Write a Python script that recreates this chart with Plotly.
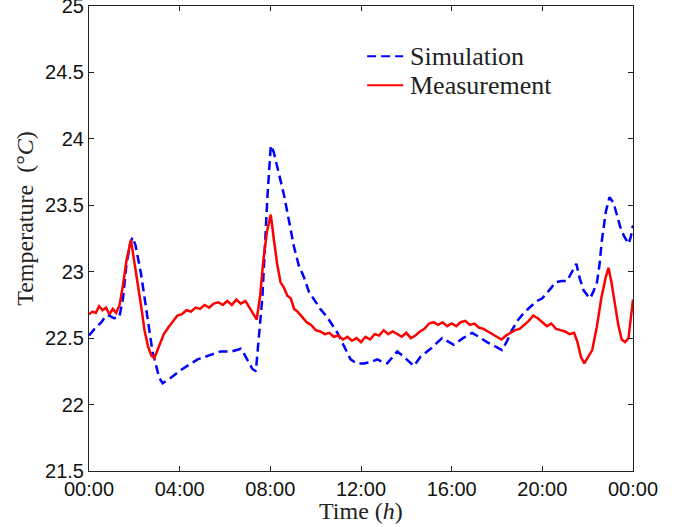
import plotly.graph_objects as go

# ---- data (hours since midnight) ----
sim_t = [0, 0.3, 0.55, 0.75, 0.9, 1.1, 1.34, 1.5, 1.65, 1.8, 1.92, 2.05, 2.29, 2.45, 2.6, 2.8, 2.95,
         3.1, 3.25, 3.6, 4.05, 4.4, 4.79, 5.3, 5.81, 6.3, 6.7, 6.85, 7.0, 7.2, 7.36, 7.5, 7.65, 7.87,
         8.02, 8.15, 8.35, 8.6, 8.85, 9.04, 9.25, 9.48, 9.7, 9.93, 10.2, 10.5, 10.75, 10.96, 11.25,
         11.54, 11.8, 12.13, 12.45, 12.72, 12.95, 13.16, 13.4, 13.6, 13.89, 14.1, 14.33, 14.63, 15.07,
         15.58, 15.85, 16.09, 16.5, 16.9, 17.2, 17.56, 17.9, 18.22, 18.45, 18.66, 18.9, 19.18, 19.5,
         19.77, 20.0, 20.21, 20.4, 20.57, 20.85, 21.09, 21.3, 21.5, 21.65, 21.82, 22.0, 22.11, 22.25,
         22.41, 22.52, 22.63, 22.8, 22.96, 23.14, 23.3, 23.43, 23.6, 23.8, 23.9, 24.0]
sim_v = [22.52, 22.58, 22.62, 22.67, 22.67, 22.65, 22.66, 22.80, 23.05, 23.20, 23.26, 23.20, 22.99,
         22.80, 22.60, 22.40, 22.30, 22.20, 22.16, 22.20, 22.26, 22.30, 22.34, 22.37, 22.40, 22.40,
         22.42, 22.38, 22.33, 22.27, 22.25, 22.50, 22.81, 23.56, 23.95, 23.90, 23.75, 23.58, 23.36,
         23.19, 23.05, 22.96, 22.85, 22.79, 22.72, 22.66, 22.60, 22.54, 22.44, 22.34, 22.31, 22.31,
         22.32, 22.34, 22.32, 22.31, 22.36, 22.40, 22.36, 22.33, 22.29, 22.36, 22.42, 22.50, 22.47,
         22.45, 22.50, 22.54, 22.51, 22.47, 22.44, 22.41, 22.48, 22.56, 22.63, 22.69, 22.74, 22.78,
         22.80, 22.84, 22.88, 22.92, 22.93, 22.93, 23.00, 23.06, 22.95, 22.86, 22.82, 22.80, 22.85,
         22.92, 23.05, 23.24, 23.45, 23.56, 23.52, 23.42, 23.34, 23.27, 23.21, 23.26, 23.35]

meas_t = [0, 0.15, 0.3, 0.45, 0.6, 0.75, 0.9, 1.05, 1.2, 1.35, 1.5, 1.65, 1.85, 2.0, 2.15, 2.3, 2.45,
          2.6, 2.75, 2.88, 3.0, 3.15, 3.3, 3.5, 3.7, 3.9, 4.1, 4.3, 4.5, 4.7, 4.9, 5.1, 5.3, 5.5, 5.7,
          5.9, 6.1, 6.3, 6.5, 6.7, 6.9, 7.1, 7.3, 7.4, 7.55, 7.7, 7.85, 8.02, 8.15, 8.3, 8.45, 8.6,
          8.75, 8.9, 9.05, 9.2, 9.4, 9.6, 9.8, 10.0, 10.2, 10.4, 10.6, 10.8, 11.0, 11.2, 11.4, 11.6,
          11.8, 12.0, 12.2, 12.4, 12.6, 12.8, 13.0, 13.2, 13.4, 13.6, 13.8, 14.0, 14.2, 14.4, 14.6,
          14.8, 15.0, 15.2, 15.4, 15.6, 15.8, 16.0, 16.2, 16.4, 16.6, 16.8, 17.0, 17.2, 17.4, 17.6,
          17.8, 18.0, 18.2, 18.4, 18.6, 18.8, 19.0, 19.2, 19.4, 19.6, 19.8, 20.0, 20.2, 20.4, 20.6,
          20.8, 21.0, 21.2, 21.4, 21.55, 21.7, 21.85, 22.0, 22.2, 22.4, 22.6, 22.8, 22.92, 23.05,
          23.2, 23.35, 23.5, 23.65, 23.8, 23.9, 24.0]
meas_v = [22.68, 22.70, 22.69, 22.74, 22.71, 22.73, 22.68, 22.72, 22.69, 22.75, 22.90, 23.08, 23.24,
          23.08, 22.90, 22.74, 22.56, 22.44, 22.37, 22.35, 22.40, 22.47, 22.53, 22.58, 22.63, 22.67,
          22.68, 22.71, 22.70, 22.73, 22.72, 22.75, 22.73, 22.76, 22.77, 22.75, 22.78, 22.75, 22.79,
          22.76, 22.78, 22.72, 22.66, 22.64, 22.82, 23.10, 23.30, 23.43, 23.25, 23.06, 22.92, 22.88,
          22.82, 22.80, 22.72, 22.70, 22.66, 22.62, 22.60, 22.56, 22.55, 22.53, 22.54, 22.51, 22.52,
          22.49, 22.51, 22.48, 22.50, 22.47, 22.51, 22.49, 22.53, 22.52, 22.56, 22.53, 22.55, 22.53,
          22.51, 22.54, 22.50, 22.52, 22.55, 22.57, 22.61, 22.62, 22.60, 22.62, 22.59, 22.61, 22.59,
          22.62, 22.63, 22.60, 22.61, 22.58, 22.57, 22.55, 22.53, 22.51, 22.49, 22.52, 22.54, 22.56,
          22.57, 22.60, 22.63, 22.67, 22.65, 22.62, 22.59, 22.61, 22.57, 22.56, 22.55, 22.53, 22.54,
          22.47, 22.36, 22.31, 22.35, 22.41, 22.58, 22.80, 22.96, 23.03, 22.92, 22.76, 22.60, 22.49,
          22.47, 22.50, 22.65, 22.79]

series_names = ["Simulation", "Measurement"]
series_colors = ["#0000ff", "#ff0000"]

x_tickvals = [0, 4, 8, 12, 16, 20, 24]
x_ticktext = ["00:00", "04:00", "08:00", "12:00", "16:00", "20:00", "00:00"]
y_tickvals = [21.5, 22, 22.5, 23, 23.5, 24, 24.5, 25]
y_ticktext = ["21.5", "22", "22.5", "23", "23.5", "24", "24.5", "25"]

SANS = "Liberation Sans, Arial, sans-serif"
SERIF = "Liberation Serif, Times New Roman, serif"
BLUE_DASH = "9px,5px"

fig = go.Figure()
fig.add_trace(go.Scatter(x=sim_t, y=sim_v, mode="lines", name=series_names[0], showlegend=False,
                         line=dict(color=series_colors[0], width=2.5, dash=BLUE_DASH)))
fig.add_trace(go.Scatter(x=meas_t, y=meas_v, mode="lines", name=series_names[1], showlegend=False,
                         line=dict(color=series_colors[1], width=2.5)))

L, R, T, B = 89, 632.7, 5.7, 470.7
W, H = 690, 527
pw, ph = R - L, B - T

def px_x(p):
    return (p - L) / pw

def px_y(p):
    return (B - p) / ph

axis_common = dict(showline=True, linecolor="#222", linewidth=1, mirror="ticks",
                   ticks="inside", ticklen=5, tickcolor="#222", showgrid=False, zeroline=False,
                   automargin=False, ticklabeloverflow="allow",
                   tickfont=dict(family=SANS, size=20, color="#111"))

fig.update_xaxes(range=[0, 24], tickvals=x_tickvals, ticktext=x_ticktext,
                 ticklabelstandoff=0, **axis_common)
fig.update_yaxes(range=[21.5, 25], tickvals=y_tickvals, ticktext=y_ticktext,
                 ticklabelstandoff=0, **axis_common)

fig.add_annotation(text="Time (<i>h</i>)", xref="paper", yref="paper",
                   x=0.5, y=px_y(511), xanchor="center", yanchor="middle",
                   showarrow=False, font=dict(family=SERIF, size=24, color="#222"))
fig.add_annotation(text="Temperature  (°<i>C</i>)", xref="paper", yref="paper",
                   x=px_x(25), y=px_y(217.5), xanchor="center", yanchor="middle",
                   textangle=-90, showarrow=False,
                   font=dict(family=SERIF, size=24, color="#222"))

# legend (drawn manually to match the compact row spacing)
leg_rows = [56, 85]
for name, color, row, dash in zip(series_names, series_colors, leg_rows, [BLUE_DASH, "solid"]):
    fig.add_shape(type="line", xref="paper", yref="paper",
                  x0=px_x(367), x1=px_x(403), y0=px_y(row), y1=px_y(row),
                  line=dict(color=color, width=2, dash=dash))
    fig.add_annotation(text=name, xref="paper", yref="paper",
                       x=px_x(408), y=px_y(row), xanchor="left", yanchor="middle",
                       showarrow=False, font=dict(family=SERIF, size=26, color="#222"))

fig.update_layout(
    width=W, height=H,
    margin=dict(l=L, r=W - R, t=T, b=H - B, pad=0, autoexpand=False),
    paper_bgcolor="white", plot_bgcolor="white",
    showlegend=False,
)

fig.write_html("out.html", config={"displayModeBar": False},
               post_script="document.body.style.margin='0';document.body.style.overflow='hidden';")
